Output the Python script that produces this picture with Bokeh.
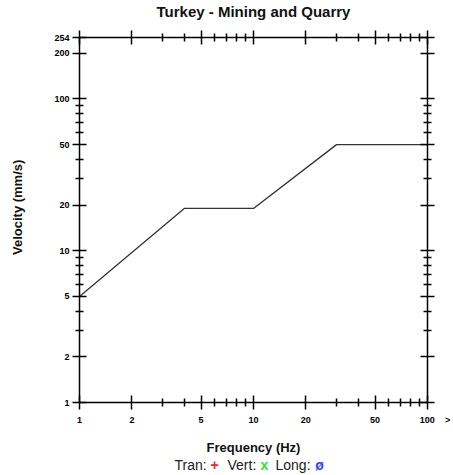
from bokeh.plotting import figure
from bokeh.layouts import column
from bokeh.models import Range1d, FixedTicker, LogAxis, CustomJSTickFormatter
from bokeh.core.properties import value
from bokeh.embed import file_html
from bokeh.resources import INLINE

# ---- data ----
freq = [1, 4, 10, 30, 100]
velocity = [5, 19, 19, 50, 50]

x_major = [1, 2, 5, 10, 20, 50, 100]
x_minor = [3, 4, 6, 7, 8, 9, 30, 40, 60, 70, 80, 90]
y_major = [1, 2, 5, 10, 20, 50, 100, 200, 254]
y_minor = [3, 4, 6, 7, 8, 9, 30, 40, 60, 70, 80, 90]

title_text = "Turkey - Mining and Quarry"
x_label = "Frequency (Hz)"
y_label = "Velocity (mm/s)"
legend_labels = ["Tran:", "Vert:", "Long:"]
legend_symbols = ["+", "x", "\u00f8"]
legend_colors = ["#ff2020", "#33dd33", "#3344ff"]

FONT = "Liberation Sans"
W = 453
FL, FR = 79, 427  # pixel span of the chart frame (text strips are aligned to it)


def blank_fig(h):
    f = figure(width=W, height=h, x_range=Range1d(FL, FR), y_range=Range1d(h, 0),
               x_axis_type=None, y_axis_type=None,
               min_border_left=FL, min_border_right=W - FR,
               min_border_top=0, min_border_bottom=0,
               output_backend="svg", toolbar_location=None)
    f.outline_line_color = None
    f.xgrid.visible = False
    f.ygrid.visible = False
    f.background_fill_color = "white"
    f.border_fill_color = "white"
    return f


# ---- header (title) ----
head = blank_fig(28)
head.text(x=[253], y=[11], text=[title_text], text_font=value(FONT),
          text_font_size="15px", text_font_style="bold", text_color="#111111",
          text_align="center", text_baseline="middle")

# ---- main chart ----
p = figure(x_axis_type="log", y_axis_type="log",
           x_range=Range1d(1, 100), y_range=Range1d(1, 254),
           frame_width=FR - FL, frame_height=365,
           min_border_left=FL, min_border_right=W - FR,
           min_border_top=9, min_border_bottom=53,
           output_backend="svg", toolbar_location=None)
p.outline_line_color = None
p.xgrid.visible = False
p.ygrid.visible = False
p.background_fill_color = "white"
p.border_fill_color = "white"

p.line(freq, velocity, line_color="#333333", line_width=1.3)

num_fmt = CustomJSTickFormatter(code="return String(tick)")
blank_fmt = CustomJSTickFormatter(code="return ''")


def style(ax, ticks, minors, labels):
    ax.ticker = FixedTicker(ticks=ticks, minor_ticks=minors)
    ax.axis_line_color = "black"
    ax.axis_line_width = 1.5
    ax.major_tick_line_color = "black"
    ax.major_tick_line_width = 1.5
    ax.minor_tick_line_color = "black"
    ax.minor_tick_line_width = 1.5
    ax.major_tick_in = 7
    ax.major_tick_out = 7
    ax.minor_tick_in = 4
    ax.minor_tick_out = 4
    ax.major_label_text_font = FONT
    ax.major_label_text_font_style = "bold"
    ax.major_label_text_font_size = "9px"
    ax.major_label_text_color = "black"
    ax.formatter = num_fmt if labels else blank_fmt
    ax.axis_label_text_font = FONT
    ax.axis_label_text_font_size = "13px"
    ax.axis_label_text_font_style = "bold"
    ax.axis_label_text_color = "#111111"


xa = p.xaxis[0]
style(xa, x_major, x_minor, True)
xa.major_label_standoff = 5
xa.major_label_overrides = {100: "\u00a0" * 6 + "100" + "\u00a0" * 4 + ">"}
xa.axis_label = x_label
xa.axis_label_standoff = 12

ya = p.yaxis[0]
style(ya, y_major, y_minor, True)
ya.major_label_standoff = 3
ya.axis_label = "\u00a0" * 7 + y_label
ya.axis_label_standoff = 26

top = LogAxis()
style(top, x_major, x_minor, False)
top.major_label_text_font_size = "0px"
top.major_label_standoff = 0
p.add_layout(top, "above")
right = LogAxis()
style(right, y_major, y_minor, False)
right.major_label_text_font_size = "0px"
right.major_label_standoff = 0
p.add_layout(right, "right")

# ---- footer (symbol key) ----
foot = blank_fig(20)
ky = 7
label_x = [174, 227, 275]
symbol_x = [214, 264, 319]
foot.text(x=label_x, y=[ky] * 3, text=legend_labels, text_font=value(FONT),
          text_font_size="14px", text_color="#222222",
          text_align="left", text_baseline="middle")
foot.text(x=symbol_x, y=[ky] * 3, text=legend_symbols, text_font=value(FONT),
          text_font_size="14px", text_font_style="bold", text_color=legend_colors,
          text_align="center", text_baseline="middle")

layout = column(head, p, foot, spacing=0)
open("out.html", "w").write(file_html(layout, INLINE))
